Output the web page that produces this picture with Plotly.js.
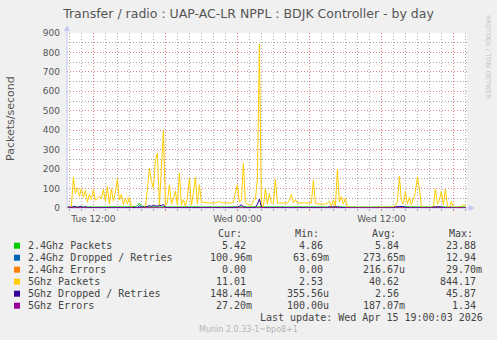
<!DOCTYPE html>
<html><head><meta charset="utf-8">
<script src="https://cdn.plot.ly/plotly-3.0.1.min.js"></script>
<style>html,body{margin:0;padding:0;background:#f0f0f0;}#chart{width:497px;height:340px;}</style>
</head><body><div id="chart"></div>
<script>
// ---- data ----
const seriesStart = [2026, 3, 14, 9, 50]; // Tue 14 Apr 2026 09:50 (month 0-based)
const stepMinutes = 10;

const packets5 = [
  2,3,8,160,75,105,60,100,55,90,
  30,70,45,95,40,50,58,50,95,35,
  110,20,100,35,80,150,40,70,18,50,
  20,55,5,3,2,2,3,2,2,3,
  95,205,140,103,245,283,15,190,398,12,
  30,120,20,51,86,15,180,15,43,10,
  50,154,15,77,158,20,120,30,28,27,
  26,27,26,27,26,30,34,27,26,27,
  25,26,27,30,77,120,30,40,231,30,
  20,15,15,40,45,146,843,8,8,99,
  20,77,25,25,146,25,26,26,26,27,
  26,40,69,26,43,26,26,25,26,25,
  26,25,26,142,25,22,20,20,20,20,
  25,34,8,43,10,200,30,60,20,51,
  5,4,3,3,4,3,3,4,3,3,
  4,3,3,4,3,3,3,4,3,3,
  4,3,4,5,15,30,163,40,20,86,
  20,55,15,51,80,160,100,10,4,3,
  3,3,3,5,98,20,40,86,15,98,
  10,4,34,4,3,4,5,10,17,11.01
];

const dropped5 = [
  0.5,8,1,8,8,1,8,8,1,8,
  1,2,1,2,1,3,1,2,1,2,
  1,2,1,1,2,1,3,1,2,1,
  2,1,2,1,1,5,4,5,5,4,
  10,12,9,13,11,10,14,12,18,3,
  2,1,2,1,2,1,1,2,1,2,
  1,2,1,2,1,1,2,1,2,1,
  1,2,1,1,2,1,2,1,1,2,
  1,2,1,2,2,4,10,17,6,2,
  1,2,1,2,3,20,45.87,5,2,1,
  2,1,2,1,2,1,1,2,1,2,
  1,2,1,1,2,1,2,1,1,2,
  1,2,1,2,1,1,2,1,2,1,
  2,6,5,6,5,6,4,2,1,1,
  0.5,0.3,0.5,0.4,0.3,0.5,0.4,0.3,0.5,0.4,
  0.3,0.5,0.4,0.3,0.5,0.4,0.3,0.5,0.4,0.3,
  0.5,0.4,0.5,1,6,8,7,8,6,2,
  1,0.5,0.4,0.3,0.5,0.4,0.3,0.5,0.4,0.3,
  0.5,0.4,1,5,6,5,6,5,2,0.5,
  0.4,0.3,0.5,0.4,0.3,0.5,0.4,0.3,0.2,0.148
];

const packets24 = [
  5.6,5.4,5.8,6.1,5.9,5.5,5.7,6.0,5.6,5.3,
  5.5,5.9,6.2,5.8,5.4,5.6,6.0,5.7,5.5,5.9,
  6.3,5.8,5.6,6.1,5.7,5.4,5.8,6.2,5.9,5.6,
  5.5,5.8,6.4,7.0,8.5,12.0,23.88,9.0,6.2,5.8,
  6.0,5.7,5.5,5.9,6.1,5.6,5.4,5.8,6.3,5.7,
  5.5,5.9,6.0,5.6,5.4,5.8,6.1,5.7,5.5,5.9,
  6.2,5.8,5.6,5.9,5.7,5.5,5.8,6.0,5.6,5.4,
  5.7,5.9,6.1,5.8,5.5,5.6,6.0,5.8,5.4,5.7,
  5.9,6.2,5.8,5.5,5.7,6.0,5.6,5.9,6.3,5.8,
  5.5,5.7,6.0,5.6,5.8,6.4,7.2,6.0,5.5,5.8,
  6.0,5.7,5.5,5.9,6.2,5.8,5.6,5.4,5.7,6.0,
  5.8,5.5,5.6,5.9,6.1,5.7,5.4,5.8,6.0,5.6,
  5.5,5.9,6.2,5.8,5.6,5.3,5.5,5.9,6.1,5.7,
  5.4,5.6,5.9,6.0,5.7,5.5,5.8,6.2,5.9,5.6,
  5.2,5.0,4.9,5.1,4.86,5.0,5.2,4.9,5.1,5.0,
  4.9,5.1,5.0,4.9,5.2,5.0,4.9,5.1,5.0,4.9,
  5.1,5.0,5.3,5.6,5.8,6.0,6.4,5.9,5.7,6.1,
  5.8,6.2,5.9,5.7,6.0,6.3,5.8,5.5,5.3,5.2,
  5.1,5.0,5.2,5.4,5.8,6.0,5.7,6.1,5.9,6.2,
  5.6,5.3,5.5,5.4,5.2,5.3,5.5,5.6,5.4,5.42
];

// sparse series: minutes after series start, values
const dropped24Minutes = [0, 350, 360, 370, 960, 1990];
const dropped24 = [0.2, 0.3, 12.94, 0.3, 0.5, 0.101];
const errors24Minutes = [0, 1000, 1990];
const errors24 = [0, 0.0297, 0];
const errors5Minutes = [0, 300, 600, 950, 960, 970, 1300, 1990];
const errors5 = [0.1, 0.2, 0.15, 0.2, 1.34, 0.2, 0.1, 0.0272];

const seriesNames = ['2.4Ghz Packets','2.4Ghz Dropped / Retries','2.4Ghz Errors','5Ghz Packets','5Ghz Dropped / Retries','5Ghz Errors'];
const seriesColors = ['#00CC00','#0066B3','#FF8000','#FFCC00','#330099','#990099'];
const curText = ['5.42','100.96m','0.00','11.01','148.44m','27.20m'];
const minText = ['4.86','63.69m','0.00','2.53','355.56u','100.00u'];
const avgText = ['5.84','273.65m','216.67u','40.62','2.56','187.07m'];
const maxText = ['23.88','12.94','29.70m','844.17','45.87','1.34'];
const columnHeads = ['Cur:','Min:','Avg:','Max:'];

const xTickVals = ['2026-04-14 12:00','2026-04-14 18:00','2026-04-15 00:00','2026-04-15 06:00','2026-04-15 12:00','2026-04-15 18:00'];
const xTickText = ['Tue 12:00','','Wed 00:00','','Wed 12:00',''];
const xRange = ['2026-04-14 09:48','2026-04-15 19:08'];
const yRange = [0, 900];

const titleText = 'Transfer / radio : UAP-AC-LR NPPL : BDJK Controller - by day';
const yTitle = 'Packets/second';
const lastUpdate = 'Last update: Wed Apr 15 19:00:03 2026';
const version = 'Munin 2.0.33-1~bpo8+1';
const watermark = 'RRDTOOL / TOBI OETIKER';

// ---- helpers ----
const base = Date.UTC(seriesStart[0], seriesStart[1], seriesStart[2], seriesStart[3], seriesStart[4]);
function timeAt(min){ return new Date(base + min*60000).toISOString().slice(0,19).replace('T',' '); }
function gridTimes(n){ const out=[]; for(let i=0;i<n;i++) out.push(timeAt(i*stepMinutes)); return out; }

const PL=67, PR=467, PT=33, PB=208;
const px = x => (x-PL)/(PR-PL);
const py = y => (PB-y)/(PB-PT);

function line(x, y, color){
  return {x, y, type:'scatter', mode:'lines', line:{color, width:1}, hoverinfo:'skip', showlegend:false};
}
const traces = [
  line(gridTimes(packets24.length), packets24, seriesColors[0]),
  line(dropped24Minutes.map(timeAt), dropped24, seriesColors[1]),
  line(errors24Minutes.map(timeAt), errors24, seriesColors[2]),
  line(gridTimes(packets5.length), packets5, seriesColors[3]),
  line(gridTimes(dropped5.length), dropped5, seriesColors[4]),
  line(errors5Minutes.map(timeAt), errors5, seriesColors[5])
];

const mono = 'DejaVu Sans Mono';
const sans = 'DejaVu Sans';
const txtColor = '#444';
const ann = [];
function addText(text, x, y, opts){
  ann.push(Object.assign({text, x:px(x), y:py(y), xref:'paper', yref:'paper', showarrow:false,
    xanchor:'left', yanchor:'middle', borderpad:0, font:{family:mono, size:10, color:txtColor}}, opts||{}));
}
addText(yTitle, 10, 119, {xanchor:'center', textangle:-90, font:{family:sans, size:11, color:'#555'}});
addText(watermark, 488, 57, {xanchor:'center', textangle:90, font:{family:sans, size:6.5, color:'#c4c4c4'}});
const headX = [217.3, 294.3, 371, 447.7];
columnHeads.forEach((h,i)=>addText(h, headX[i], 233.5));
const colRight = [253.3, 330, 406.3, 483.3];
const cols = [curText, minText, avgText, maxText];
const shapes = [];
seriesNames.forEach((name, r)=>{
  const yc = 245.7 + 12*r;
  addText(name, 26.7, yc);
  cols.forEach((col, c)=>{
    const v = col[r];
    const last = v.slice(-1);
    const txt = /[0-9]/.test(last) ? v + '\u00A0' : v;
    addText(txt, colRight[c], yc, {xanchor:'right'});
  });
  shapes.push({type:'rect', xref:'paper', yref:'paper', x0:px(14), x1:px(20), y0:py(yc+3), y1:py(yc-3),
    line:{width:0}, fillcolor:seriesColors[r]});
});
addText(lastUpdate, 483.5, 317.7, {xanchor:'right'});
addText(version, 248, 329.5, {xanchor:'center', font:{family:sans, size:8, color:'#b4b4b4'}});

// axis lines with arrows
const axisColor = '#c4c8f4';
shapes.push({type:'line', xref:'paper', yref:'paper', x0:px(67), x1:px(67), y0:py(208), y1:py(29), line:{color:axisColor, width:1}});
shapes.push({type:'path', xref:'paper', yref:'paper', path:`M ${px(67)} ${py(25)} L ${px(64)} ${py(31)} L ${px(70)} ${py(31)} Z`, fillcolor:axisColor, line:{width:0}});
shapes.push({type:'line', xref:'paper', yref:'paper', x0:px(67), x1:px(471), y0:py(208), y1:py(208), line:{color:axisColor, width:1}, layer:'below'});
shapes.push({type:'path', xref:'paper', yref:'paper', path:`M ${px(475)} ${py(208)} L ${px(469)} ${py(205)} L ${px(469)} ${py(211)} Z`, fillcolor:axisColor, line:{width:0}});

const majorGrid = '#dc8080';
const minorGrid = '#a8a8a8';
const dotted = '1px,2px';
const layout = {
  width:497, height:340,
  margin:{l:PL, r:497-PR, t:PT, b:340-PB, pad:0},
  paper_bgcolor:'#f0f0f0', plot_bgcolor:'#ffffff',
  title:{text:titleText, x:0.5, xref:'container', y:1-14/340, yref:'container', yanchor:'middle',
    font:{family:sans, size:12.5, color:'#555'}},
  xaxis:{type:'date', range:xRange, tickmode:'array', tickvals:xTickVals, ticktext:xTickText,
    tickfont:{family:sans, size:9, color:'#555'}, showgrid:true, gridcolor:majorGrid, griddash:dotted, gridwidth:1,
    ticks:'outside', ticklen:2, tickcolor:majorGrid, showline:false, zeroline:false, layer:'below traces',
    minor:{dtick:3600000, tick0:'2026-04-14 00:00', showgrid:true, gridcolor:minorGrid, griddash:dotted, gridwidth:1, ticks:'outside', ticklen:2, tickcolor:minorGrid}},
  yaxis:{range:yRange, tickmode:'linear', tick0:0, dtick:100,
    tickfont:{family:sans, size:9, color:'#555'}, showgrid:true, gridcolor:majorGrid, griddash:dotted, gridwidth:1,
    ticks:'', ticklabelstandoff:6, showline:false, zeroline:false,
    minor:{tickmode:'linear', tick0:0, dtick:50, showgrid:true, gridcolor:minorGrid, griddash:dotted, gridwidth:1}},
  annotations:ann, shapes:shapes, showlegend:false
};
Plotly.newPlot('chart', traces, layout, {displayModeBar:false, staticPlot:true});
</script></body></html>
